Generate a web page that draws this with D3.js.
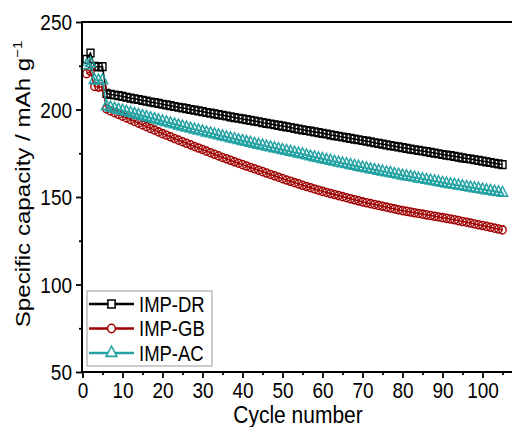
<!DOCTYPE html>
<html>
<head>
<meta charset="utf-8">
<script src="https://cdn.jsdelivr.net/npm/d3@7"></script>
<style>
  body { margin: 0; background: #fff; }
  svg { display: block; }
  text { font-family: "Liberation Sans", Arial, sans-serif; fill: #000; }
</style>
</head>
<body>
<svg id="chart" width="512" height="427"></svg>
<script>
// Cycle index (x) and specific capacity (mAh/g) for each cathode
const cycles = d3.range(1, 106);

const capDR = [
  228.7, 232.3, 224.6, 224.4, 224.5,
  209.2, 208.6, 208.3, 207.9, 207.5, 207.0, 206.5, 206.1, 205.7, 205.2,
  204.8, 204.3, 203.9, 203.5, 203.0, 202.6, 202.2, 201.7, 201.3, 200.9,
  200.5, 200.0, 199.6, 199.2, 198.8, 198.3, 197.9, 197.5, 197.1, 196.7,
  196.3, 195.8, 195.4, 195.0, 194.6, 194.2, 193.8, 193.4, 193.0, 192.5,
  192.1, 191.7, 191.3, 190.9, 190.5, 190.1, 189.7, 189.2, 188.8, 188.4,
  188.0, 187.6, 187.2, 186.8, 186.4, 186.0, 185.5, 185.1, 184.7, 184.3,
  183.9, 183.5, 183.1, 182.7, 182.3, 181.9, 181.5, 181.0, 180.6, 180.2,
  179.8, 179.4, 179.0, 178.6, 178.2, 177.8, 177.4, 177.0, 176.6, 176.3,
  175.9, 175.5, 175.1, 174.7, 174.3, 173.9, 173.6, 173.2, 172.8, 172.4,
  172.0, 171.7, 171.3, 170.9, 170.5, 170.1, 169.7, 169.3, 168.9, 168.5
];

const capGB = [
  220.5, 221.8, 213.2, 212.8, 212.9,
  200.3, 199.2, 198.2, 197.2, 196.2, 195.2, 194.2, 193.2, 192.2, 191.2,
  190.2, 189.2, 188.2, 187.2, 186.2, 185.3, 184.4, 183.4, 182.5, 181.6,
  180.7, 179.8, 178.9, 178.0, 177.1, 176.2, 175.3, 174.4, 173.5, 172.6,
  171.8, 171.0, 170.1, 169.3, 168.5, 167.7, 166.9, 166.1, 165.3, 164.5,
  163.7, 162.9, 162.1, 161.3, 160.5, 159.7, 159.0, 158.2, 157.5, 156.7,
  156.0, 155.3, 154.6, 153.9, 153.2, 152.6, 152.0, 151.4, 150.8, 150.2,
  149.6, 149.0, 148.4, 147.8, 147.2, 146.7, 146.2, 145.7, 145.2, 144.7,
  144.2, 143.7, 143.2, 142.7, 142.2, 141.8, 141.4, 141.0, 140.6, 140.2,
  139.8, 139.4, 139.0, 138.6, 138.2, 137.8, 137.4, 137.0, 136.5, 136.0,
  135.6, 135.1, 134.6, 134.1, 133.7, 133.2, 132.7, 132.2, 131.7, 131.2
];

const capAC = [
  225.2, 226.4, 216.8, 216.5, 216.6,
  201.8, 201.0, 200.4, 199.8, 199.2, 198.6, 198.0, 197.4, 196.8, 196.2,
  195.6, 195.0, 194.4, 193.8, 193.2, 192.6, 192.0, 191.4, 190.8, 190.2,
  189.6, 189.0, 188.5, 187.9, 187.4, 186.8, 186.3, 185.7, 185.2, 184.6,
  184.1, 183.5, 183.0, 182.4, 181.9, 181.4, 180.9, 180.3, 179.8, 179.3,
  178.8, 178.3, 177.8, 177.3, 176.8, 176.3, 175.8, 175.3, 174.8, 174.3,
  173.7, 173.1, 172.6, 172.1, 171.6, 171.1, 170.6, 170.1, 169.6, 169.1,
  168.7, 168.2, 167.7, 167.2, 166.8, 166.3, 165.8, 165.4, 164.9, 164.5,
  164.0, 163.6, 163.1, 162.7, 162.2, 161.8, 161.4, 161.0, 160.5, 160.1,
  159.7, 159.3, 158.9, 158.5, 158.0, 157.6, 157.2, 156.9, 156.5, 156.1,
  155.7, 155.3, 154.9, 154.6, 154.2, 153.8, 153.4, 153.0, 152.7, 152.3
];

const seriesNames  = ["IMP-DR", "IMP-GB", "IMP-AC"];
const seriesColors = ["#000000", "#a00000", "#22a2a2"];
const seriesValues = [capDR, capGB, capAC];
const seriesSymbols = [d3.symbolSquare, d3.symbolCircle, d3.symbolTriangle];
const symbolSizes = [48, 42, 46];

const xMajor = [0, 10, 20, 30, 40, 50, 60, 70, 80, 90, 100];
const xMinor = [5, 15, 25, 35, 45, 55, 65, 75, 85, 95, 105];
const yMajor = [50, 100, 150, 200, 250];
const yMinor = [75, 125, 175, 225];

const svg = d3.select("#chart");
// Lettering is drawn slightly tall (vertical stretch)
const TEXT_STRETCH = 1.15;

// Plot area: the frame runs past the right edge of the page
const plotLeft = 82, plotTop = 22, plotBottom = 372, plotRight = 520;
const x = d3.scaleLinear().domain([0, 108]).range([plotLeft + 0.5, plotLeft + 0.5 + 432]);
const y = d3.scaleLinear().domain([50, 250]).range([plotBottom, plotTop]);

// Series: thin connecting line plus hollow markers
seriesValues.forEach((vals, i) => {
  const pts = cycles.map((c, k) => [c, vals[k]]);
  const g = svg.append("g");
  g.append("path")
    .attr("d", d3.line().x(d => x(d[0])).y(d => y(d[1]))(pts))
    .attr("fill", "none")
    .attr("stroke", seriesColors[i])
    .attr("stroke-width", 1.5);
  g.selectAll("path.m").data(pts).join("path")
    .attr("class", "m")
    .attr("transform", d => `translate(${x(d[0])},${y(d[1])}) scale(1,1.1)`)
    .attr("d", d3.symbol().type(seriesSymbols[i]).size(symbolSizes[i]))
    .attr("fill", "none")
    .attr("stroke", seriesColors[i])
    .attr("stroke-width", 1.4);
});

// Frame top edge
svg.append("line")
  .attr("x1", plotLeft).attr("x2", plotRight)
  .attr("y1", plotTop).attr("y2", plotTop)
  .attr("stroke", "#000").attr("stroke-width", 2);

// Axes: major ticks with labels, minor ticks unlabeled
const styleAxis = g => {
  g.selectAll("path.domain").attr("stroke", "#000").attr("stroke-width", 2);
  g.selectAll(".tick line").attr("stroke", "#000").attr("stroke-width", 1.8);
  g.selectAll(".tick text")
    .style("font-size", "19px")
    .attr("fill", "#000")
    .attr("transform", `scale(1,${TEXT_STRETCH})`);
};

const xAxisG = svg.append("g").attr("transform", `translate(0,${plotBottom})`)
  .call(d3.axisBottom(x).tickValues(xMajor).tickSize(6).tickSizeOuter(0).tickPadding(3))
  .call(styleAxis);
xAxisG.select("path.domain").attr("d", `M${plotLeft},0H${plotRight}`);
svg.append("g").attr("transform", `translate(0,${plotBottom})`)
  .call(d3.axisBottom(x).tickValues(xMinor).tickSize(3).tickSizeOuter(0).tickFormat(""))
  .call(styleAxis)
  .select("path.domain").remove();

const yAxisG = svg.append("g").attr("transform", `translate(${plotLeft},0)`)
  .call(d3.axisLeft(y).tickValues(yMajor).tickSize(6).tickSizeOuter(0).tickPadding(4))
  .call(styleAxis);
yAxisG.select("path.domain").attr("d", `M0,${plotTop - 1}V${plotBottom + 1}`);
yAxisG.selectAll(".tick text").attr("dy", "0.36em");
svg.append("g").attr("transform", `translate(${plotLeft},0)`)
  .call(d3.axisLeft(y).tickValues(yMinor).tickSize(3).tickSizeOuter(0).tickFormat(""))
  .call(styleAxis)
  .select("path.domain").remove();

// Axis titles
svg.append("text")
  .attr("transform", `translate(298,423) scale(1,${TEXT_STRETCH})`)
  .attr("text-anchor", "middle")
  .style("font-size", "21px")
  .text("Cycle number");

const yTitle = svg.append("text")
  .attr("transform", `translate(30,184) rotate(-90) scale(${TEXT_STRETCH},1)`)
  .attr("text-anchor", "middle")
  .style("font-size", "21px");
yTitle.append("tspan").text("Specific capacity / mAh g");
yTitle.append("tspan").attr("dy", -8).style("font-size", "13px").text("\u22121");

// Legend
const legend = svg.append("g");
legend.append("rect")
  .attr("x", 87).attr("y", 291).attr("width", 125).attr("height", 75)
  .attr("fill", "#fff").attr("stroke", "#999").attr("stroke-width", 1);
seriesNames.forEach((name, i) => {
  const ly = 304 + i * 24.5;
  legend.append("line")
    .attr("x1", 89).attr("x2", 134).attr("y1", ly).attr("y2", ly)
    .attr("stroke", seriesColors[i]).attr("stroke-width", 2.5);
  legend.append("path")
    .attr("transform", `translate(111.5,${ly}) scale(1,1.1)`)
    .attr("d", d3.symbol().type(seriesSymbols[i]).size(symbolSizes[i] + 4))
    .attr("fill", "#fff")
    .attr("stroke", seriesColors[i]).attr("stroke-width", 1.5);
  legend.append("text")
    .attr("transform", `translate(139,${ly}) scale(1,${TEXT_STRETCH})`)
    .attr("dy", "0.36em")
    .style("font-size", "18.5px")
    .text(name);
});
</script>
</body>
</html>
